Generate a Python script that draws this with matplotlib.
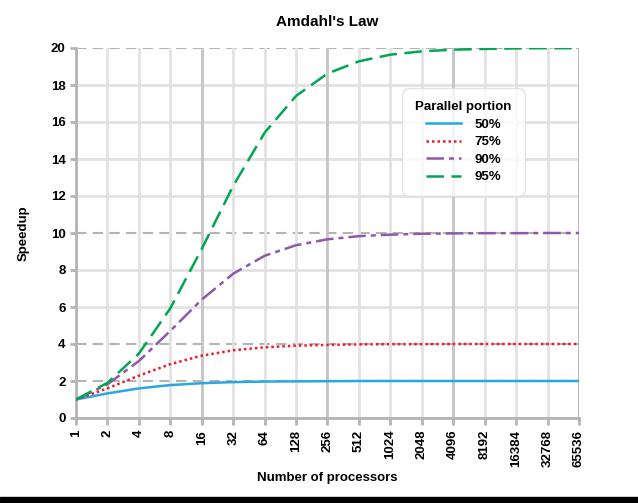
import matplotlib.pyplot as plt
from matplotlib.patches import Rectangle

plt.rcParams['font.family'] = ['Liberation Sans', 'DejaVu Sans']
plt.rcParams['font.weight'] = 'bold'

procs = [1, 2, 4, 8, 16, 32, 64, 128, 256, 512, 1024, 2048, 4096,
         8192, 16384, 32768, 65536]
s50 = [1.0, 1.33, 1.6, 1.78, 1.88, 1.94, 1.97, 1.98, 1.99, 2.0, 2.0, 2.0,
       2.0, 2.0, 2.0, 2.0, 2.0]
s75 = [1.0, 1.6, 2.29, 2.91, 3.37, 3.66, 3.82, 3.91, 3.95, 3.98, 3.99,
       3.99, 4.0, 4.0, 4.0, 4.0, 4.0]
s90 = [1.0, 1.82, 3.08, 4.71, 6.4, 7.8, 8.77, 9.34, 9.66, 9.83, 9.91,
       9.96, 9.98, 9.99, 9.99, 10.0, 10.0]
s95 = [1.0, 1.9, 3.48, 5.93, 9.14, 12.55, 15.42, 17.41, 18.62, 19.28,
       19.64, 19.82, 19.91, 19.95, 19.98, 19.99, 19.99]
yticks = [0, 2, 4, 6, 8, 10, 12, 14, 16, 18, 20]

fig = plt.figure(figsize=(6.38, 5.03), dpi=100)
ax = fig.add_axes([76 / 638, 1 - 418 / 503, 503 / 638, 370 / 503])

# grid
for y in yticks:
    if y in (2, 4, 10, 20):
        ax.axhline(y, color='#b4b4b4', lw=1.5, ls=(0, (5, 3)), zorder=1)
    else:
        ax.axhline(y, color='#e2e2e2', lw=2, zorder=1)
for x in procs:
    c = '#c4c4c4' if x in (16, 256, 4096) else '#e2e2e2'
    ax.axvline(x, color=c, lw=2, zorder=1)

ax.plot(procs, s50, color='#29a8e0', lw=1.8, label='50%', zorder=3)
ax.plot(procs, s75, color='#ee1c25', lw=1.8, ls=(0, (1, 1.2)), label='75%', zorder=3)
ax.plot(procs, s90, color='#8c5aa8', lw=1.8, ls=(0, (7, 2, 2, 2)), label='90%', zorder=3)
ax.plot(procs, s95, color='#00a651', lw=1.8, ls=(0, (7, 3)), label='95%', zorder=3)

ax.set_xscale('log', base=2)
ax.set_xlim(1, 65536)
ax.set_ylim(0, 20)
ax.set_xticks(procs)
ax.set_xticklabels([str(p) for p in procs], rotation=90, fontsize=9.5, fontweight='bold')
ax.minorticks_off()
ax.set_yticks(yticks)
ax.set_yticklabels([str(y) for y in yticks], fontsize=9.5, fontweight='bold')
ax.tick_params(axis='both', color='#b4b4b4', width=2, length=5)
ax.tick_params(axis='y', length=4)

for side in ('top', 'right'):
    ax.spines[side].set_visible(False)
for side in ('left', 'bottom'):
    ax.spines[side].set_color('#b4b4b4')
    ax.spines[side].set_linewidth(2)
ax.axvline(65536, color='#b4b4b4', lw=2, zorder=2)

ax.set_title("Amdahl's Law", fontsize=11, fontweight='bold', pad=16)
ax.set_xlabel('Number of processors', fontsize=9.5, fontweight='bold', labelpad=4)
ax.set_ylabel('Speedup', fontsize=9.5, fontweight='bold', labelpad=15)

leg = ax.legend(title='Parallel portion', loc='upper left',
                bbox_to_anchor=(326 / 503, 1 - 40 / 370), borderaxespad=0,
                frameon=True, fancybox=True, fontsize=9.5,
                title_fontproperties={'weight': 'bold', 'size': 9.5},
                handlelength=2.65, handletextpad=1.05, borderpad=1.0,
                labelspacing=0.4)
leg.get_frame().set_edgecolor('#dddddd')
leg.get_frame().set_linewidth(1)
leg.get_frame().set_boxstyle('round', pad=0, rounding_size=0.6)
leg.set_zorder(5)

fig.patches.append(Rectangle((0, 0), 1, 6 / 503, transform=fig.transFigure,
                             color='black', zorder=10))

fig.savefig('out.png', dpi=100)
